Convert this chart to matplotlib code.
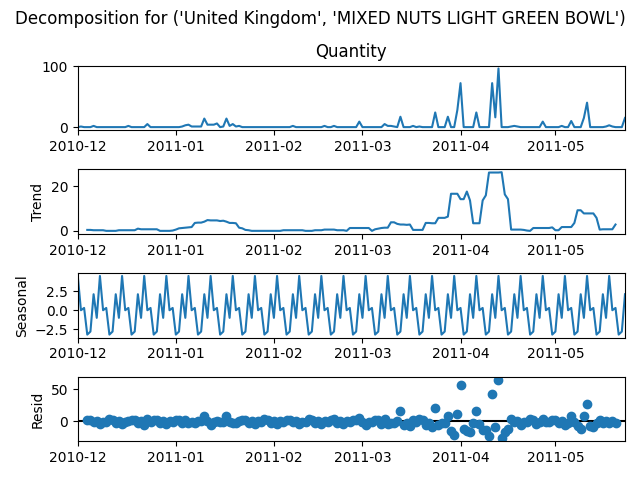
import numpy as np
import pandas as pd
import matplotlib
matplotlib.use("Agg")
import matplotlib.pyplot as plt

TITLE = "Decomposition for ('United Kingdom', 'MIXED NUTS LIGHT GREEN BOWL')"
START_DATE = "2010-12-01"

# daily quantity (one line per month)
dec = [0, 1, 0, 0, 0, 2, 0, 0, 0, 0, 0, 0, 0, 0, 0, 0, 2, 0, 0, 0, 0, 0, 5, 0, 0, 0, 0, 0, 0, 0, 0]
jan = [0, 0, 1, 3, 4, 1, 1, 1, 1, 14, 4, 4, 4, 6, 0, 1, 14, 2, 5, 1, 2, 0, 0, 0, 0, 0, 0, 0, 0, 0, 0]
feb = [0, 0, 0, 0, 0, 0, 2, 0, 0, 0, 0, 0, 0, 0, 0, 0, 2, 0, 0, 2, 0, 0, 0, 0, 0, 0, 0, 9]
mar = [0, 0, 0, 0, 0, 0, 0, 5, 2, 2, 1, 0, 17, 0, 0, 0, 2, 0, 1, 0, 0, 0, 0, 24, 0, 0, 0, 17, 0, 0, 28]
apr = [72, 0, 0, 0, 0, 24, 0, 0, 0, 0, 72, 16, 96, 0, 0, 0, 1, 2, 1, 0, 0, 0, 0, 0, 0, 0, 9, 0, 0, 0]
may = [0, 0, 2, 0, 0, 10, 0, 0, 0, 15, 40, 0, 0, 0, 0, 0, 1, 3, 1, 0, 0, 0, 15]

# weekly seasonal pattern (starts on 2010-12-01)
seasonal_week = [4.5, 0.0, 0.3, -3.2, -2.8, 2.1, -1.0]

PERIOD = 7

quantity = dec + jan + feb + mar + apr + may
dates = pd.date_range(START_DATE, periods=len(quantity), freq="D")
observed = pd.Series(quantity, index=dates, dtype=float, name="Quantity")

# additive decomposition: centred moving average trend, residual is what is left
trend = observed.rolling(PERIOD, center=True).mean()
seasonal = pd.Series(np.tile(seasonal_week, len(observed) // PERIOD + 1)[:len(observed)], index=dates)
resid = observed - trend - seasonal

xlim = (dates[0], dates[-1])

fig, axs = plt.subplots(4, 1, figsize=(6.4, 4.8), dpi=100)

axs[0].plot(observed.index, observed.values)
axs[0].set_title("Quantity")

axs[1].plot(trend.index, trend.values)
axs[1].set_ylabel("Trend")

axs[2].plot(seasonal.index, seasonal.values)
axs[2].set_ylabel("Seasonal")

axs[3].plot(resid.index, resid.values, marker="o", linestyle="none")
axs[3].plot(xlim, (0, 0), color="#000000", zorder=-3)
axs[3].set_ylabel("Resid")

for ax in axs:
    ax.set_xlim(xlim)

fig.suptitle(TITLE)
fig.tight_layout()
# the reference sits a touch higher under the suptitle
fig.subplots_adjust(top=fig.subplotpars.top + 0.01)
fig.savefig("out.png")
